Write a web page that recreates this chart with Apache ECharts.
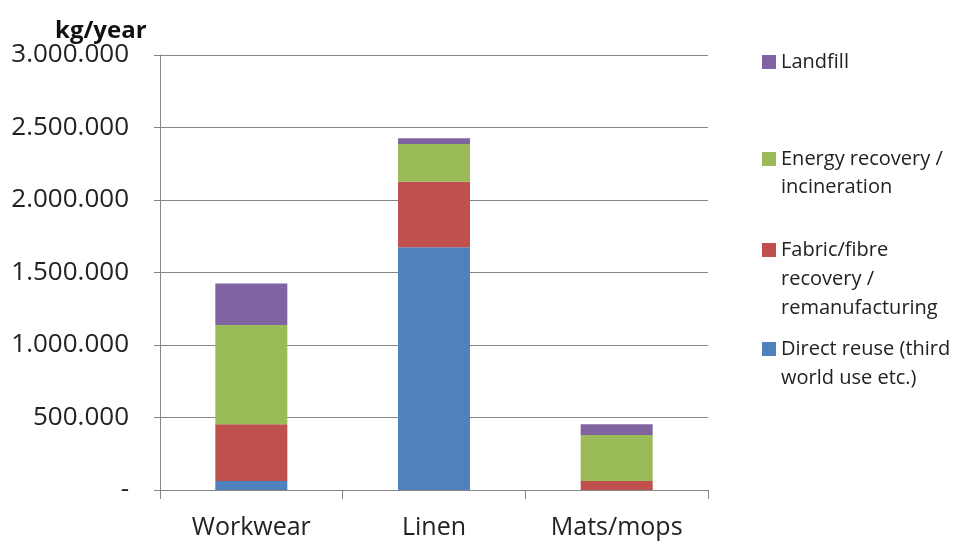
<!DOCTYPE html>
<html><head><meta charset="utf-8">
<script src="https://cdn.jsdelivr.net/npm/echarts@6/dist/echarts.min.js"></script>
<style>html,body{margin:0;padding:0;background:#fff}#c{width:957px;height:541px}</style>
</head><body><div id="c"></div>
<script>
const categories = ['Workwear', 'Linen', 'Mats/mops'];
const directReuse = [62000, 1674000, 0];
const fabricRecovery = [391000, 452000, 62000];
const energyRecovery = [685000, 260000, 317000];
const landfill = [287000, 40000, 74000];
const yTicks = [0, 500000, 1000000, 1500000, 2000000, 2500000, 3000000];

const names = {
  direct: 'Direct reuse (third\nworld use etc.)',
  fabric: 'Fabric/fibre\nrecovery /\nremanufacturing',
  energy: 'Energy recovery /\nincineration',
  landfill: 'Landfill'
};
const FONT = 'Open Sans';
function fmt(v) {
  if (v === 0) return '-';
  return String(v).replace(/\B(?=(\d{3})+(?!\d))/g, '.');
}
function leg(name, lines, centerY, LH) {
  const h = (2 * lines - 1) * LH;
  return {
    data: [name], left: 762, top: centerY - h / 2, orient: 'vertical', padding: 0,
    itemWidth: 14, itemHeight: 14, selectedMode: false, icon: 'rect',
    formatter: n => '\n'.repeat(lines - 1) + n,
    textStyle: { fontFamily: FONT, fontSize: 20, color: '#222', lineHeight: LH }
  };
}
const chart = echarts.init(document.getElementById('c'));
chart.setOption({
  animation: false,
  title: { text: 'kg/year', left: 50, top: 14, textStyle: { fontFamily: FONT, fontSize: 24, fontWeight: 'bold', color: '#111' } },
  legend: [
    leg(names.landfill, 1, 62, 28),
    leg(names.energy, 2, 159, 28),
    leg(names.fabric, 3, 250, 29),
    leg(names.direct, 2, 349, 29)
  ],
  grid: { left: 160, right: 249, top: 55, bottom: 51, containLabel: false },
  xAxis: {
    type: 'category', data: categories,
    axisLine: { lineStyle: { color: '#868686', width: 1 } },
    axisTick: { show: true, alignWithLabel: false, length: 9, lineStyle: { color: '#868686' } },
    axisLabel: { fontFamily: FONT, fontSize: 25, color: '#222', margin: 25 }
  },
  yAxis: {
    type: 'value', min: 0, max: 3000000, interval: 500000,
    axisLine: { show: true, lineStyle: { color: '#868686', width: 1 } },
    axisTick: { show: true, length: 6, lineStyle: { color: '#868686' } },
    splitLine: { lineStyle: { color: '#868686', width: 1 } },
    axisLabel: { fontFamily: FONT, fontSize: 26, color: '#222', margin: 31, formatter: fmt }
  },
  series: [
    { name: names.direct, type: 'bar', stack: 's', data: directReuse, barWidth: 72, itemStyle: { color: '#4F81BD' } },
    { name: names.fabric, type: 'bar', stack: 's', data: fabricRecovery, itemStyle: { color: '#C0504D' } },
    { name: names.energy, type: 'bar', stack: 's', data: energyRecovery, itemStyle: { color: '#9BBB59' } },
    { name: names.landfill, type: 'bar', stack: 's', data: landfill, itemStyle: { color: '#8064A2' } }
  ]
});
</script></body></html>
